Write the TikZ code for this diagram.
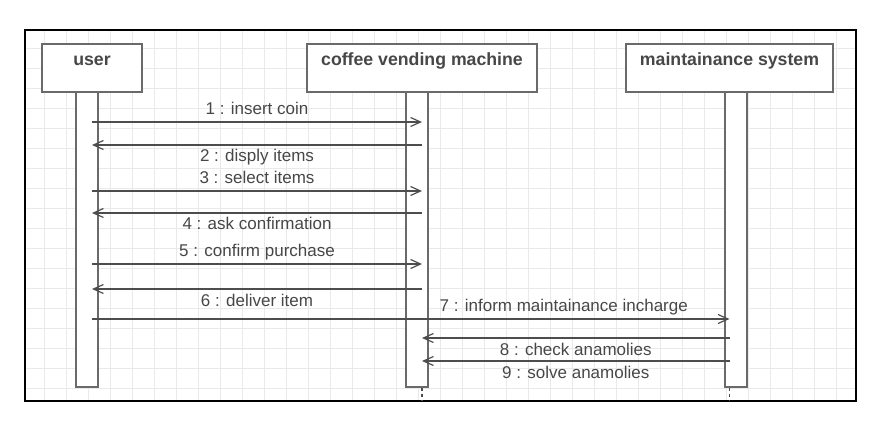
\documentclass[tikz,border=0pt]{standalone}
\usepackage{fontspec}
\setmainfont{Liberation Sans}
\usepackage{tikz}
\usetikzlibrary{arrows.meta,shadows}
\definecolor{linegray}{HTML}{4D4D4D}
\definecolor{boxgray}{HTML}{6A6A6A}
\definecolor{textgray}{HTML}{474747}
\definecolor{gridgray}{HTML}{E9E9E9}

\begin{document}
\begin{tikzpicture}[x=1pt,y=-1pt,
        actor/.style={draw=boxgray,line width=1.6pt,fill=white,minimum width=#1,inner sep=0pt,
            text height=21.6pt,text depth=26.4pt,text=textgray,
            font=\fontsize{17.7}{20}\selectfont\bfseries,
            drop shadow={shadow xshift=1.2pt,shadow yshift=-1.2pt,opacity=.25}},
        bar/.style={draw=boxgray,line width=1.6pt,fill=white,minimum width=22pt,
            minimum height=295pt,inner sep=0pt},
        msg/.style={draw=linegray,line width=1.2pt,-{Straight Barb[length=10pt,width=9pt]}},
        lbl/.style={midway,anchor=base,inner sep=0pt,text=textgray,font=\fontsize{17}{20}\selectfont},
        lblup/.style={lbl,yshift=7pt},
        lbldown/.style={lbl,yshift=-17pt},
        lifeline/.style={draw=linegray,line width=1.2pt,dash pattern=on 3pt off 3pt}]
    \useasboundingbox (0,0) rectangle (896,427);
    % frame and grid
    \begin{scope}
        \clip (25,30) rectangle (856,401);
        \foreach \gx in {2,...,38}
            \draw[gridgray,line width=0.8pt] (22*\gx,30) -- (22*\gx,401);
        \foreach \gy in {2,...,19}
            \draw[gridgray,line width=0.8pt] (25,8+20*\gy) -- (856,8+20*\gy);
    \end{scope}
    \draw[line width=1.5pt] (25,30) rectangle (856,401);
    % lifelines
    \node[actor=100pt,anchor=north] (user) at (92,43) {user};
    \node[actor=230pt,anchor=north] (cvm) at (422,43) {coffee vending machine};
    \node[actor=207pt,anchor=north] (mts) at (729.5,43) {maintainance system};
    \node[bar,anchor=north] (userbar) at (87,91) {};
    \node[bar,anchor=north] (cvmbar) at (417,91) {};
    \node[bar,anchor=north] (mtsbar) at (736,91) {};
    \draw[lifeline] (cvm |- cvmbar.south) -- (cvm |- 0,400);
    \draw[lifeline] (mts |- mtsbar.south) -- (mts |- 0,400);
    % messages
    \draw[msg] (user |- 0,122) -- node[lblup] {1 : insert coin} (cvm |- 0,122);
    \draw[msg] (cvm |- 0,145) -- node[lbldown] {2 : disply items} (user |- 0,145);
    \draw[msg] (user |- 0,191) -- node[lblup] {3 : select items} (cvm |- 0,191);
    \draw[msg] (cvm |- 0,213) -- node[lbldown] {4 : ask confirmation} (user |- 0,213);
    \draw[msg] (user |- 0,264) -- node[lblup] {5 : confirm purchase} (cvm |- 0,264);
    \draw[msg] (cvm |- 0,289) -- node[lbldown] {6 : deliver item} (user |- 0,289);
    \draw[msg] (user |- 0,319) -- node[lblup,pos=0.74] {7 : inform maintainance incharge} (mts |- 0,319);
    \draw[msg] (mts |- 0,338) -- node[lbldown] {8 : check anamolies} (cvm |- 0,338);
    \draw[msg] (mts |- 0,361) -- node[lbldown] {9 : solve anamolies} (cvm |- 0,361);
\end{tikzpicture}
\end{document}
